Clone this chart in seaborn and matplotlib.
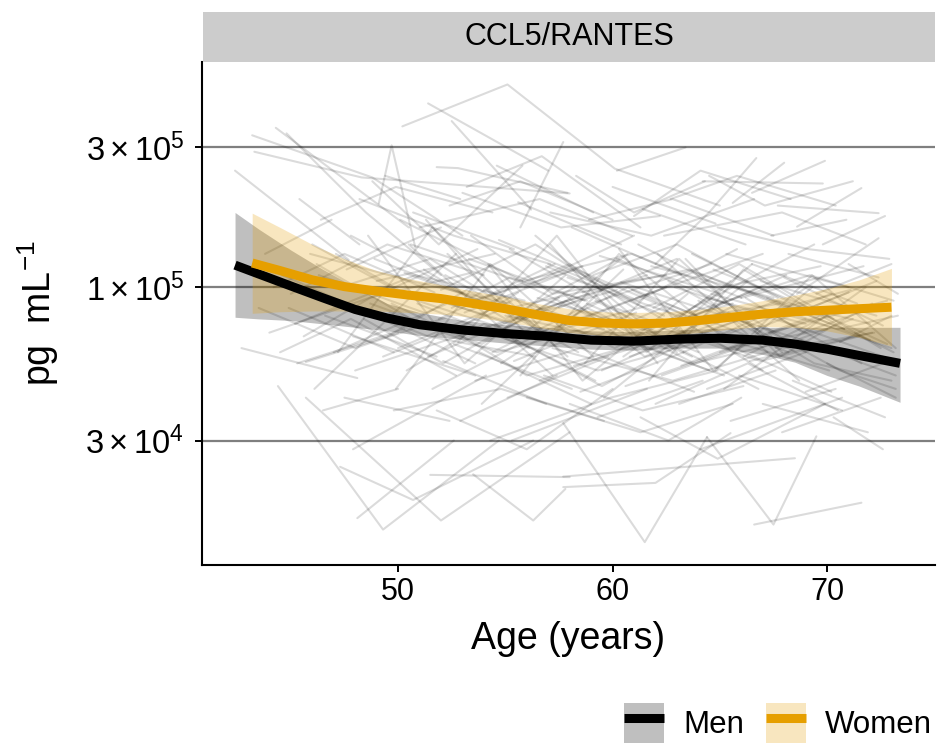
import numpy as np
import pandas as pd
import matplotlib
matplotlib.use('Agg')
import matplotlib.pyplot as plt
import seaborn as sns
from matplotlib.patches import Patch
from matplotlib.lines import Line2D
from matplotlib.legend_handler import HandlerTuple
import matplotlib.ticker as mticker

sns.set_theme(style='white')
plt.rcParams['font.family'] = ['Liberation Sans', 'DejaVu Sans']
plt.rcParams['mathtext.fontset'] = 'custom'
plt.rcParams['mathtext.rm'] = 'Liberation Sans'
plt.rcParams['mathtext.it'] = 'Liberation Sans:italic'
plt.rcParams['mathtext.bf'] = 'Liberation Sans:bold'
plt.rcParams['text.color'] = 'black'
plt.rcParams['axes.labelcolor'] = 'black'

# ---------------- data ----------------
panel_title = 'CCL5/RANTES'
sexes = ['Men', 'Women']
sex_colors = {'Men': '#000000', 'Women': '#E69F00'}
x_ticks = [50, 60, 70]
y_ticks = [3e4, 1e5, 3e5]
y_tick_labels = [r'$3\times10^4$', r'$1\times10^5$', r'$3\times10^5$']

# individual trajectories (age in years, concentration in pg/mL)
traj_ages = [
    [42.4, 47.7], [43.2, 48.8, 53.0], [44.3, 50.5], [43.3, 48.3, 58.0], [44.8, 48.5, 52.0],
    [49.1, 49.7, 50.8], [50.2, 55.1, 60.1, 65.0], [51.4, 57.0], [52.5, 56.2], [51.8, 52.8, 57.9],
    [55.7, 57.7], [60.2, 63.4], [64.2, 69.8], [62.0, 64.5, 66.7], [65.6, 68.0],
    [66.5, 69.9], [68.6, 71.6], [67.7, 72.4], [68.6, 72.4], [42.7, 48.1],
    [44.4, 49.3, 54.7], [45.7, 52.0, 58.0], [47.3, 50.7, 56.3], [48.1, 52.6], [46.5, 50.0],
    [45.7, 50.0], [51.5, 58.0], [53.5, 56.3, 57.8], [57.7, 61.5, 64.4], [66.6, 71.6],
    [64.4, 67.5, 69.5], [57.7, 62.0, 65.5], [57.7, 68.5],
    [45.0, 49.5, 54.0], [46.2, 51.0], [47.0, 52.3, 56.8], [47.8, 53.0], [48.4, 52.1, 57.5],
    [49.0, 54.5], [49.5, 53.2, 58.4], [50.1, 55.8], [50.4, 54.0, 59.2], [50.9, 56.1],
    [51.2, 55.0, 60.3], [51.6, 57.0], [52.0, 56.4, 61.0], [52.3, 57.9], [52.7, 56.0, 61.8],
    [53.1, 58.6], [53.4, 57.2, 62.5], [53.8, 59.0], [54.1, 58.0, 63.1], [54.5, 60.2],
    [54.8, 58.8, 63.7], [55.2, 60.6], [55.5, 59.5, 64.2], [55.9, 61.0], [56.2, 60.1, 65.0],
    [56.6, 62.0], [57.0, 61.2, 65.8], [57.3, 62.5], [57.7, 61.5, 66.4], [58.1, 63.2],
    [58.4, 62.3, 67.0], [58.8, 64.0], [59.1, 63.0, 67.7], [59.5, 64.6], [59.8, 63.8, 68.3],
    [60.2, 65.3], [60.5, 64.4, 69.0], [60.9, 66.0], [61.2, 65.1, 69.7], [61.6, 66.8],
    [61.9, 65.9, 70.3], [62.3, 67.4], [62.6, 66.7, 71.0], [63.0, 68.1], [63.3, 67.3, 71.6],
    [63.7, 68.8], [64.0, 68.0, 72.2], [64.4, 69.5], [64.7, 68.7, 72.8], [65.1, 70.2],
    [65.4, 69.4, 73.0], [65.8, 70.8], [66.1, 70.0, 72.5], [66.5, 71.4], [66.8, 70.6, 73.2],
    [67.2, 72.0], [67.6, 71.2], [68.0, 72.6],
    [43.5, 48.0, 52.5], [44.0, 49.2], [44.6, 48.9, 53.6], [45.3, 50.3], [45.9, 50.6, 55.2],
    [46.6, 51.8], [47.3, 51.5, 56.0], [47.9, 53.6], [48.7, 53.9, 58.2], [49.3, 55.0],
    [48.2, 52.6, 57.1], [50.7, 55.4], [53.0, 57.6, 62.2], [55.6, 60.4], [58.9, 62.8, 67.5],
    [61.4, 66.2], [64.9, 69.1, 72.9], [60.0, 64.8], [51.0, 56.6, 60.9], [62.4, 67.9, 71.8],
    [49.8, 54.8, 59.6], [52.9, 57.4], [56.0, 61.3, 65.6], [59.3, 64.2], [62.0, 66.3, 70.5],
    [65.5, 70.4], [68.4, 72.7], [54.3, 59.9, 64.9], [47.5, 52.4], [67.0, 71.9],
    [70.0, 73.2], [69.2, 72.3], [70.6, 73.0], [71.0, 73.3],
    [45.2, 50.8, 55.9], [46.0, 50.2], [46.8, 51.4, 56.4], [47.6, 52.0], [48.0, 53.3, 58.9],
    [48.9, 54.2], [49.6, 54.6, 59.8], [50.0, 55.3], [50.6, 55.6, 60.5], [51.1, 56.8],
    [51.4, 56.2, 61.6], [51.9, 57.3], [52.2, 57.0, 62.0], [52.6, 58.1], [53.0, 58.3, 63.4],
    [53.3, 58.7], [53.7, 59.3, 64.0], [54.0, 59.6], [54.4, 59.0, 64.6], [54.7, 60.0],
    [55.0, 60.8, 65.2], [55.4, 61.1], [55.8, 60.9, 66.0], [56.1, 61.7], [56.5, 61.9, 66.9],
    [56.9, 62.4], [57.2, 62.8, 67.2], [57.5, 63.0], [57.9, 63.5, 67.8], [58.2, 63.9],
    [58.6, 63.6, 68.6], [59.0, 64.5], [59.4, 65.0, 69.4], [59.7, 65.6], [60.1, 65.4, 70.0],
    [60.4, 66.1], [60.8, 66.5, 71.1], [61.1, 67.0], [61.5, 66.9, 71.5], [61.8, 67.5],
    [62.2, 67.7, 72.0], [62.5, 68.2], [62.9, 68.5, 72.6], [63.2, 69.0], [63.6, 69.2, 73.1],
    [63.9, 69.6], [64.3, 70.1], [64.6, 70.5, 73.3], [65.0, 70.9], [65.3, 71.0],
    [65.7, 71.3], [66.0, 71.7], [66.4, 72.1], [66.9, 72.3], [67.3, 72.8],
    [67.8, 73.0], [68.2, 72.4], [68.8, 73.2], [69.5, 73.0],
    [44.2, 47.5, 51.7], [44.9, 49.8], [45.6, 48.7, 53.4], [46.3, 51.2], [47.1, 50.9, 55.5],
    [49.2, 53.7], [50.3, 54.9, 59.5], [52.1, 56.9], [53.6, 58.5, 63.8], [55.1, 59.8],
    [56.8, 61.4, 66.1], [58.5, 63.3], [60.6, 65.7, 70.2], [63.1, 67.6], [65.9, 70.7],
    [69.0, 72.9], [71.3, 73.1],
    [46.4, 49.9, 54.4], [52.4, 55.7, 60.0], [57.1, 61.8, 66.6], [62.7, 65.8, 70.4],
    [49.4, 52.9], [54.6, 59.1], [67.4, 70.9], [69.8, 72.7],
    [47.2, 51.6, 56.7], [48.6, 53.1, 57.8], [49.9, 54.3, 59.1], [51.3, 55.9, 60.7], [52.8, 57.4, 62.1],
    [54.2, 58.6, 63.5], [55.7, 60.3, 65.1], [57.1, 61.6, 66.5], [58.7, 63.1, 67.9], [60.3, 64.7, 69.3],
    [61.7, 66.1, 70.8], [63.4, 67.8, 72.1], [64.8, 69.3, 73.2], [46.1, 52.7], [50.5, 57.2],
    [53.9, 60.5], [56.4, 63.0], [59.6, 66.3], [62.1, 68.7], [65.2, 71.8],
    [48.8, 51.9, 55.8], [53.2, 56.7, 61.3], [58.3, 61.0, 64.3], [61.0, 64.1, 68.3], [64.5, 67.1, 71.2],
    [47.9, 54.1], [51.8, 56.0, 60.0], [55.3, 61.6], [58.0, 62.6, 66.0], [61.3, 64.9, 69.9],
    [64.1, 70.7], [67.9, 72.5], [70.3, 72.6], [57.4, 60.7, 63.9], [59.2, 62.1, 65.5],
    [52.5, 55.2, 58.8], [54.9, 57.8, 61.9], [62.8, 65.6, 69.0], [66.2, 68.9, 71.9], [49.7, 52.5, 55.6],
    [44.5, 47.8, 52.7], [43.8, 46.9], [45.4, 48.2],
]
traj_values = [
    [250e3, 124e3], [330e3, 237e3, 150e3], [350e3, 160e3], [290e3, 237e3, 209e3], [335e3, 180e3, 110e3],
    [193e3, 305e3, 137e3], [354e3, 492e3, 254e3, 190e3], [424e3, 250e3], [369e3, 184e3], [257e3, 255e3, 210e3],
    [160e3, 313e3], [250e3, 300e3], [230e3, 226e3], [120e3, 180e3, 276e3], [194e3, 266e3],
    [210e3, 270e3], [161e3, 218e3], [190e3, 179e3], [95e3, 147e3], [62e3, 49e3],
    [46e3, 14.9e3, 30e3], [42e3, 16e3, 32e3], [24.4e3, 18.8e3, 30e3], [16.3e3, 30e3], [38e3, 45e3],
    [55.6e3, 69.8e3], [22.9e3, 22.5e3], [23e3, 16e3, 20.5e3], [34.4e3, 13.5e3, 30.8e3], [15.5e3, 18.4e3],
    [30.8e3, 15.5e3, 31e3], [20.8e3, 21.5e3, 31.8e3], [22.6e3, 26.1e3],
    [95e3, 140e3, 110e3], [120e3, 75e3], [60e3, 88e3, 70e3], [150e3, 95e3], [78e3, 55e3, 92e3],
    [105e3, 130e3], [68e3, 98e3, 60e3], [170e3, 105e3], [52e3, 75e3, 48e3], [88e3, 62e3],
    [115e3, 78e3, 125e3], [45e3, 72e3], [98e3, 140e3, 85e3], [130e3, 58e3], [70e3, 50e3, 66e3],
    [82e3, 118e3], [150e3, 95e3, 110e3], [60e3, 40e3], [92e3, 120e3, 72e3], [74e3, 98e3],
    [55e3, 85e3, 58e3], [135e3, 80e3], [66e3, 46e3, 70e3], [100e3, 150e3], [85e3, 62e3, 95e3],
    [48e3, 68e3], [120e3, 90e3, 135e3], [72e3, 100e3], [95e3, 58e3, 80e3], [160e3, 110e3],
    [64e3, 85e3, 52e3], [88e3, 60e3], [110e3, 140e3, 92e3], [52e3, 78e3], [78e3, 55e3, 66e3],
    [125e3, 88e3], [58e3, 92e3, 75e3], [98e3, 65e3], [140e3, 100e3, 118e3], [70e3, 45e3],
    [85e3, 120e3, 78e3], [50e3, 68e3], [105e3, 72e3, 96e3], [75e3, 110e3], [60e3, 82e3, 55e3],
    [130e3, 85e3], [90e3, 62e3, 70e3], [45e3, 62e3], [115e3, 88e3, 64e3], [68e3, 95e3],
    [82e3, 55e3, 48e3], [100e3, 72e3], [58e3, 80e3, 62e3], [120e3, 88e3], [74e3, 52e3, 45e3],
    [92e3, 66e3], [62e3, 78e3], [108e3, 74e3],
    [85e3, 62e3, 80e3], [70e3, 95e3], [110e3, 80e3, 55e3], [55e3, 72e3], [130e3, 105e3, 88e3],
    [80e3, 58e3], [100e3, 125e3, 78e3], [68e3, 50e3], [88e3, 64e3, 100e3], [58e3, 85e3],
    [200e3, 150e3, 120e3], [180e3, 135e3], [210e3, 160e3, 175e3], [195e3, 140e3], [170e3, 200e3, 150e3],
    [185e3, 140e3], [160e3, 135e3, 125e3], [220e3, 165e3], [160e3, 200e3, 150e3], [150e3, 180e3, 140e3],
    [38e3, 45e3, 35e3], [35e3, 50e3], [42e3, 32e3, 40e3], [36e3, 48e3], [40e3, 55e3, 38e3],
    [35e3, 45e3], [48e3, 36e3], [30e3, 42e3, 52e3], [42e3, 35e3], [40e3, 32e3],
    [55e3, 42e3], [85e3, 105e3], [65e3, 80e3], [120e3, 95e3],
    [75e3, 110e3, 90e3], [140e3, 95e3], [92e3, 68e3, 58e3], [115e3, 160e3], [52e3, 70e3, 95e3],
    [125e3, 88e3], [82e3, 60e3, 76e3], [62e3, 90e3], [140e3, 105e3, 70e3], [95e3, 68e3],
    [58e3, 82e3, 110e3], [78e3, 120e3], [110e3, 70e3, 88e3], [64e3, 45e3], [88e3, 115e3, 80e3],
    [125e3, 90e3], [72e3, 52e3, 65e3], [98e3, 72e3], [60e3, 88e3, 120e3], [145e3, 100e3],
    [80e3, 65e3, 50e3], [56e3, 82e3], [105e3, 130e3, 92e3], [68e3, 95e3], [92e3, 70e3, 100e3],
    [118e3, 80e3], [62e3, 48e3, 60e3], [85e3, 125e3], [108e3, 78e3, 88e3], [54e3, 72e3],
    [96e3, 115e3, 82e3], [74e3, 52e3], [128e3, 95e3, 140e3], [66e3, 88e3], [85e3, 62e3, 72e3],
    [104e3, 76e3], [58e3, 80e3, 98e3], [92e3, 130e3], [76e3, 56e3, 68e3], [118e3, 92e3],
    [64e3, 90e3, 75e3], [88e3, 60e3], [100e3, 74e3, 58e3], [54e3, 78e3], [82e3, 110e3, 90e3],
    [112e3, 80e3], [70e3, 52e3], [95e3, 72e3, 80e3], [60e3, 86e3], [130e3, 100e3],
    [78e3, 58e3], [92e3, 118e3], [56e3, 70e3], [105e3, 80e3], [70e3, 90e3],
    [84e3, 62e3], [130e3, 108e3], [66e3, 50e3], [95e3, 120e3],
    [100e3, 130e3, 96e3], [85e3, 60e3], [68e3, 92e3, 112e3], [110e3, 82e3], [130e3, 90e3, 70e3],
    [95e3, 135e3], [112e3, 84e3, 100e3], [56e3, 40e3], [48e3, 62e3, 44e3], [42e3, 58e3],
    [50e3, 38e3, 46e3], [44e3, 60e3], [46e3, 62e3, 44e3], [40e3, 52e3], [50e3, 38e3],
    [44e3, 56e3], [70e3, 60e3],
    [170e3, 220e3, 180e3], [190e3, 230e3, 170e3], [180e3, 150e3, 200e3], [200e3, 240e3, 190e3],
    [240e3, 200e3], [260e3, 180e3], [150e3, 170e3], [140e3, 175e3],
    [60e3, 160e3, 70e3], [150e3, 55e3, 110e3], [45e3, 120e3, 58e3], [170e3, 70e3, 130e3], [65e3, 150e3, 55e3],
    [120e3, 48e3, 95e3], [50e3, 130e3, 68e3], [140e3, 60e3, 120e3], [55e3, 125e3, 60e3], [135e3, 52e3, 100e3],
    [48e3, 115e3, 72e3], [125e3, 58e3, 88e3], [52e3, 110e3, 62e3], [45e3, 130e3], [140e3, 50e3],
    [40e3, 115e3], [150e3, 60e3], [42e3, 105e3], [130e3, 48e3], [45e3, 100e3],
    [230e3, 140e3, 260e3], [220e3, 280e3, 160e3], [240e3, 180e3, 230e3], [175e3, 250e3, 200e3], [240e3, 190e3, 230e3],
    [28e3, 50e3], [38e3, 28e3, 45e3], [30e3, 45e3], [40e3, 30e3, 42e3], [36e3, 26e3, 40e3],
    [28e3, 42e3], [32e3, 42e3], [36e3, 28e3], [75e3, 100e3, 80e3], [90e3, 70e3, 105e3],
    [85e3, 108e3, 90e3], [72e3, 90e3, 64e3], [68e3, 86e3, 60e3], [92e3, 70e3, 84e3], [88e3, 70e3, 96e3],
    [60e3, 78e3, 50e3], [130e3, 170e3], [200e3, 140e3],
]

# smoothed fits with confidence ribbons
men_age = [42.4, 43.5, 45.0, 46.5, 48.0, 49.5, 51.0, 53.0, 55.0, 57.0,
           59.0, 61.0, 63.0, 65.0, 67.0, 68.5, 70.0, 71.5, 73.4]
men_fit = [119e3, 111e3, 101e3, 92e3, 84e3, 78.5e3, 74.5e3, 71.5e3, 69.5e3, 68e3,
           66e3, 65.5e3, 66.5e3, 67e3, 66e3, 64e3, 61.5e3, 58.5e3, 55e3]
men_lower = [79e3, 78e3, 77e3, 75e3, 73e3, 71e3, 68.5e3, 66.5e3, 64.5e3, 63e3,
             61.5e3, 61e3, 62e3, 62e3, 59e3, 55.5e3, 50e3, 46e3, 40.5e3]
men_upper = [180e3, 158e3, 134e3, 115e3, 100e3, 88e3, 82e3, 77e3, 74.5e3, 73e3,
             71e3, 70.5e3, 71.5e3, 72.5e3, 73e3, 73e3, 73e3, 73e3, 73e3]

women_age = [43.2, 44.5, 46.0, 47.5, 49.0, 50.5, 52.0, 53.5, 55.0, 56.5, 58.0,
             59.5, 61.0, 62.5, 64.0, 65.5, 67.0, 68.5, 70.0, 71.5, 73.0]
women_fit = [121e3, 114e3, 106e3, 100.5e3, 97e3, 94e3, 91.5e3, 88e3, 84.5e3, 80.5e3, 77e3,
             75.5e3, 75e3, 75.5e3, 77e3, 79e3, 81e3, 82.5e3, 83.5e3, 84.5e3, 85.5e3]
women_lower = [81.5e3, 82.5e3, 83e3, 83e3, 83e3, 82e3, 81e3, 79e3, 76.5e3, 73e3, 70e3,
               68.5e3, 68e3, 68.5e3, 70e3, 72e3, 73.5e3, 73e3, 71e3, 67.5e3, 63e3]
women_upper = [179e3, 160e3, 140e3, 125e3, 114e3, 107e3, 102e3, 97e3, 93e3, 88e3, 84.5e3,
               82.5e3, 82e3, 82.5e3, 84e3, 86.5e3, 90e3, 94e3, 99e3, 106e3, 116e3]

# ---------------- build tables ----------------
rows = []
for i, (a_list, v_list) in enumerate(zip(traj_ages, traj_values)):
    for a, v in zip(a_list, v_list):
        rows.append({'subject': i, 'age': a, 'conc': v})
traj_df = pd.DataFrame(rows)

fit_df = pd.concat([
    pd.DataFrame({'sex': 'Men', 'age': men_age, 'fit': men_fit, 'lo': men_lower, 'hi': men_upper}),
    pd.DataFrame({'sex': 'Women', 'age': women_age, 'fit': women_fit, 'lo': women_lower, 'hi': women_upper}),
], ignore_index=True)

# ---------------- figure ----------------
W, H = 938, 744
fig = plt.figure(figsize=(W / 100, H / 100), dpi=100)
ax = fig.add_axes([202 / W, 1 - 565 / H, 733 / W, (565 - 62) / H])
ax.set_yscale('log')

sns.lineplot(data=traj_df, x='age', y='conc', units='subject', estimator=None,
             color='black', alpha=0.14, linewidth=1.5, ax=ax, legend=False, zorder=2)

for sex in sexes:
    d = fit_df[fit_df['sex'] == sex]
    ax.fill_between(d['age'], d['lo'], d['hi'], color=sex_colors[sex], alpha=0.25,
                    linewidth=0, zorder=3)
sns.lineplot(data=fit_df, x='age', y='fit', hue='sex', palette=sex_colors,
             linewidth=6.5, ax=ax, legend=False, zorder=4, estimator=None,
             solid_capstyle='butt', solid_joinstyle='round')

ax.set_xlim(40.86, 75.03)
ax.set_ylim(1.128e4, 5.87e5)
ax.set_xticks(x_ticks)
ax.set_xticklabels([str(t) for t in x_ticks])
ax.yaxis.set_major_locator(mticker.FixedLocator(y_ticks))
ax.yaxis.set_minor_locator(mticker.NullLocator())
ax.set_yticklabels(y_tick_labels)

ax.set_axisbelow(True)
ax.yaxis.grid(True, color='#7F7F7F', linewidth=1.6)
ax.xaxis.grid(False)
for s in ['top', 'right']:
    ax.spines[s].set_visible(False)
for s in ['left', 'bottom']:
    ax.spines[s].set_color('black')
    ax.spines[s].set_linewidth(1.5)
ax.tick_params(axis='both', which='major', direction='out', length=5, width=1.4,
               color='black', labelcolor='black', left=True, bottom=True)
ax.tick_params(axis='x', pad=4, labelsize=22)
ax.tick_params(axis='y', pad=8, labelsize=23.5)

ax.set_xlabel('Age (years)', fontsize=27, labelpad=10, color='black')
ax.set_ylabel(r'pg  mL$^{-1}$', fontsize=27, color='black')
ax.yaxis.set_label_coords(-0.192, 0.5)
ax.set_facecolor('white')

# facet strip
sax = fig.add_axes([203 / W, 1 - 62 / H, 732 / W, 50 / H])
sax.set_facecolor('#CCCCCC')
sax.set_xticks([])
sax.set_yticks([])
for s in sax.spines.values():
    s.set_visible(False)
sax.text(0.5, 0.5, panel_title, ha='center', va='center', fontsize=22, color='black',
         transform=sax.transAxes)

# legend
handles = []
for sex in sexes:
    handles.append((Patch(facecolor=sex_colors[sex], alpha=0.25, edgecolor='none'),
                    Line2D([], [], color=sex_colors[sex], linewidth=6.5, solid_capstyle='butt')))
fig.legend(handles, sexes, handler_map={tuple: HandlerTuple(ndivide=1, pad=0)},
           loc='lower right', bbox_to_anchor=(932 / W, 1 / H), ncol=2, frameon=False,
           fontsize=22.5, handlelength=1.3, handleheight=1.6, handletextpad=0.6,
           columnspacing=0.7, borderpad=0, borderaxespad=0)

fig.savefig('out.png', dpi=100, facecolor='white')
